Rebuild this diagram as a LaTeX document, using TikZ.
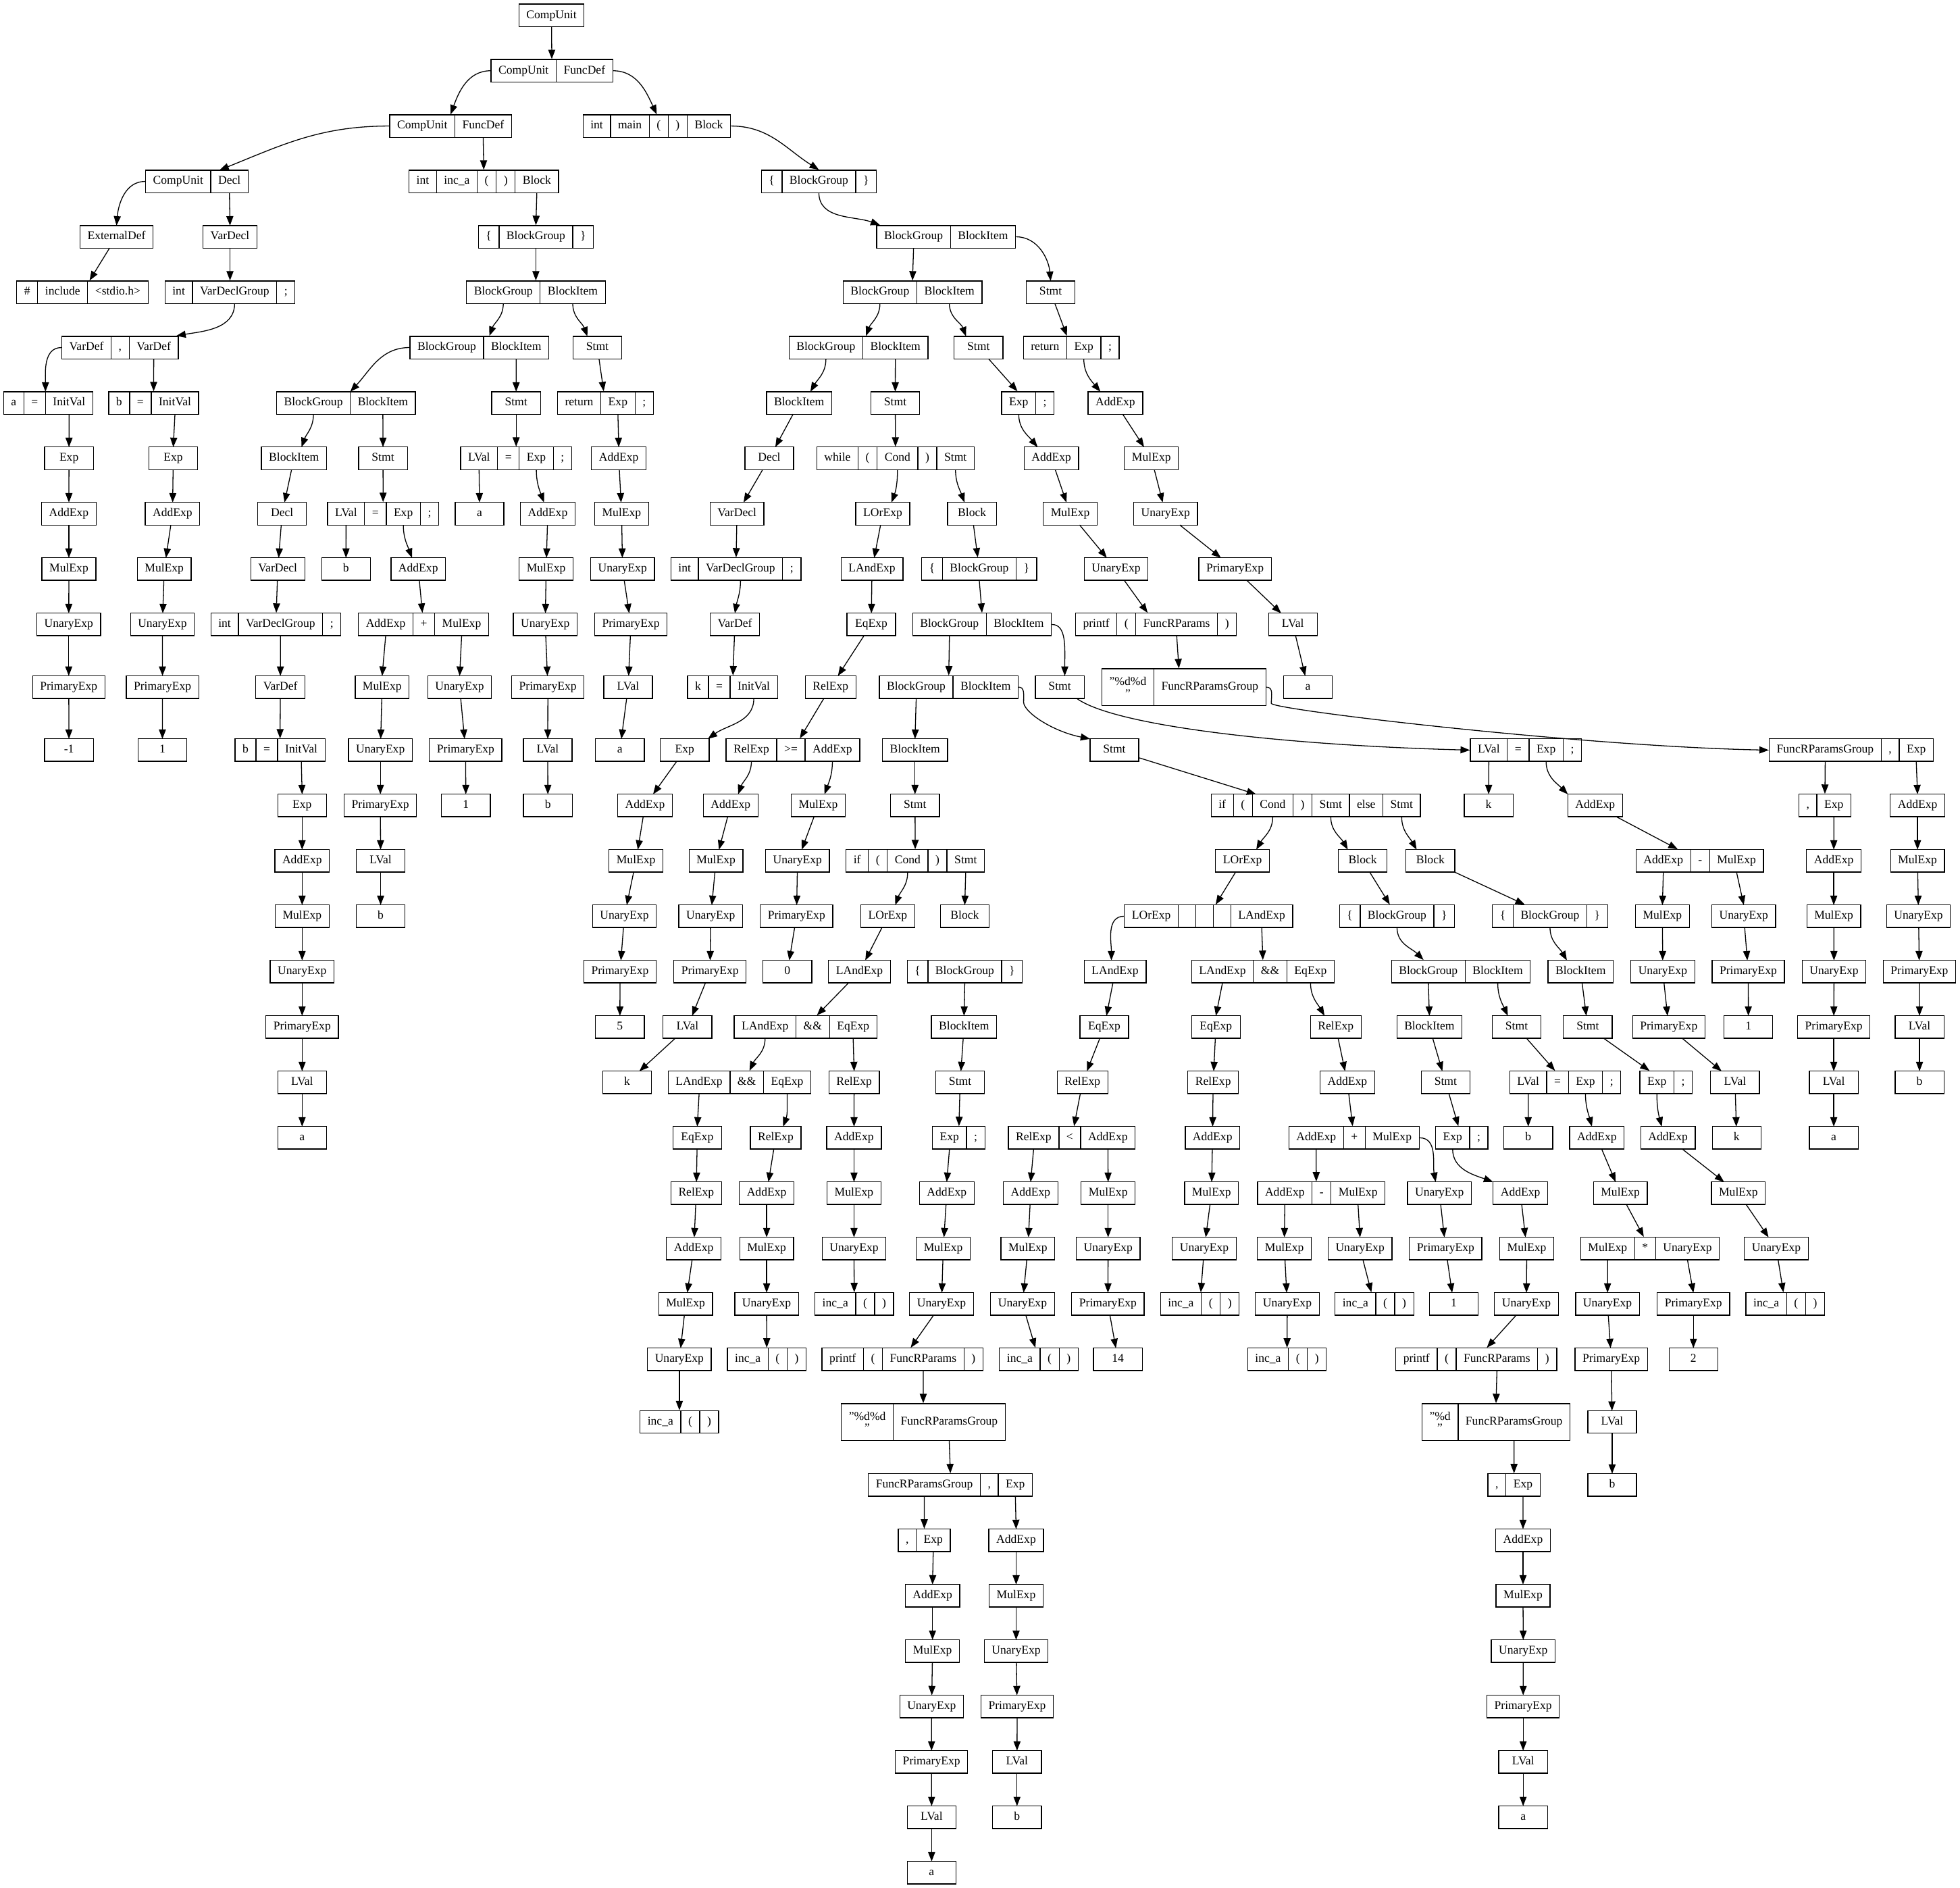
\documentclass[tikz,border=0pt]{standalone}
\usepackage{fontspec}
\setmainfont{Liberation Serif}
\usetikzlibrary{matrix,arrows.meta}
\newcommand{\treefont}{\fontsize{9.5pt}{11.4pt}\selectfont}
\newcommand{\ampch}{\char"26\relax}
\tikzset{
	field/.style={draw, font=\treefont, minimum height=18pt, inner xsep=6pt, inner ysep=0pt, outer sep=0pt, text height=6.7pt, text depth=2pt},
	rec/.style={matrix of nodes, nodes={field, anchor=center}, column sep=-\pgflinewidth, inner sep=0pt, outer sep=0pt},
	tall/.style={nodes={minimum height=29.4pt, text height=, text depth=}},
	link/.style={-{Triangle[length=7.5pt, width=5.6pt]}}
}
\begin{document}
\begin{tikzpicture}[x=1pt, y=1pt, line width=0.7pt, ampersand replacement=\&, box/.style={field, minimum width=39pt}]
\useasboundingbox (0,0) rectangle (1568,-1510);
\node[box] (cu0) at (441.2,-12.3) {CompUnit};
\matrix (rec1) [rec] at (441.5,-56.6) {CompUnit \& FuncDef\\};
\matrix (rec2a) [rec] at (360.5,-100.8) {CompUnit \& FuncDef\\};
\matrix (rec2b) [rec] at (525.4,-100.8) {int \& main \& ( \& ) \& Block\\};
\matrix (rec3a) [rec] at (157.5,-145.1) {CompUnit \& Decl\\};
\matrix (rec3b) [rec] at (387,-145.1) {int \& inc\_a \& ( \& ) \& Block\\};
\matrix (rec3c) [rec] at (655.1,-145.1) {\{ \& BlockGroup \& \}\\};
\node[box] (ext4a) at (93.2,-189.4) {ExternalDef};
\node[box] (vdecl4b) at (184,-189.4) {VarDecl};
\matrix (rec4c) [rec] at (428.7,-189.4) {\{ \& BlockGroup \& \}\\};
\matrix (rec4d) [rec] at (756.9,-189.4) {BlockGroup \& BlockItem\\};
\matrix (rec5a) [rec] at (65.9,-233.7) {\# \& include \& <stdio.h>\\};
\matrix (rec5b) [rec] at (184,-233.7) {int \& VarDeclGroup \& ;\\};
\matrix (rec5c) [rec] at (428.7,-233.7) {BlockGroup \& BlockItem\\};
\matrix (rec5d) [rec] at (730,-233.7) {BlockGroup \& BlockItem\\};
\node[box] (stmt5e) at (840.5,-233.7) {Stmt};
\matrix (rec6a) [rec] at (96.1,-278) {VarDef \& , \& VarDef\\};
\matrix (rec6b) [rec] at (383.5,-278) {BlockGroup \& BlockItem\\};
\node[box] (stmt6c) at (477.9,-278) {Stmt};
\matrix (rec6d) [rec] at (686.8,-278) {BlockGroup \& BlockItem\\};
\node[box] (stmt6e) at (782.8,-278) {Stmt};
\matrix (rec6f) [rec] at (857,-278) {return \& Exp \& ;\\};
\matrix (rec7a) [rec] at (38.5,-322.3) {a \& = \& InitVal\\};
\matrix (rec7b) [rec] at (122.9,-322.3) {b \& = \& InitVal\\};
\matrix (rec7c) [rec] at (276.8,-322.3) {BlockGroup \& BlockItem\\};
\node[box] (stmt7d) at (412.9,-322.3) {Stmt};
\matrix (rec7e) [rec] at (484.3,-322.3) {return \& Exp \& ;\\};
\node[box] (item7f) at (639.3,-322.3) {BlockItem};
\node[box] (stmt7g) at (716.2,-322.3) {Stmt};
\matrix (rec7h) [rec] at (822.3,-322.3) {Exp \& ;\\};
\node[box] (add7i) at (892.3,-322.3) {AddExp};
\node[box] (exp8a) at (55.2,-366.6) {Exp};
\node[box] (exp8b) at (138.6,-366.6) {Exp};
\node[box] (item8c) at (235.2,-366.6) {BlockItem};
\node[box] (stmt8d) at (306.4,-366.6) {Stmt};
\matrix (rec8e) [rec] at (412.9,-366.6) {LVal \& = \& Exp \& ;\\};
\node[box] (add8f) at (495,-366.6) {AddExp};
\node[box] (decl8g) at (615.4,-366.6) {Decl};
\matrix (rec8h) [rec] at (716.4,-366.6) {while \& ( \& Cond \& ) \& Stmt\\};
\node[box] (add8i) at (841.1,-366.6) {AddExp};
\node[box] (mul8j) at (921.1,-366.6) {MulExp};
\node[box] (add9a) at (55.1,-410.9) {AddExp};
\node[box] (add9b) at (138,-410.9) {AddExp};
\node[box] (decl9c) at (225.7,-410.9) {Decl};
\matrix (rec9d) [rec] at (306.5,-410.9) {LVal \& = \& Exp \& ;\\};
\node[box] (id9e) at (383.6,-410.9) {a};
\node[box] (add9f) at (438.2,-410.9) {AddExp};
\node[box] (mul9g) at (497.3,-410.9) {MulExp};
\node[box] (vdecl9h) at (589.6,-410.9) {VarDecl};
\node[box] (lor9i) at (706.2,-410.9) {LOrExp};
\node[box] (block9j) at (777.6,-410.9) {Block};
\node[box] (mul9k) at (856.2,-410.9) {MulExp};
\node[box] (un9l) at (932.5,-410.9) {UnaryExp};
\node[box] (mul10a) at (55.1,-455.2) {MulExp};
\node[box] (mul10b) at (131.4,-455.2) {MulExp};
\node[box] (vdecl10c) at (222.2,-455.2) {VarDecl};
\node[box] (id10d) at (276.8,-455.2) {b};
\node[box] (add10e) at (334.6,-455.2) {AddExp};
\node[box] (mul10f) at (436.9,-455.2) {MulExp};
\node[box] (un10g) at (498,-455.2) {UnaryExp};
\matrix (rec10h) [rec] at (588.7,-455.2) {int \& VarDeclGroup \& ;\\};
\node[box] (land10i) at (697.6,-455.2) {LAndExp};
\matrix (rec10j) [rec] at (783.4,-455.2) {\{ \& BlockGroup \& \}\\};
\node[box] (un10k) at (892.9,-455.2) {UnaryExp};
\node[box] (prim10l) at (988,-455.2) {PrimaryExp};
\node[box] (un11a) at (55,-499.5) {UnaryExp};
\node[box] (un11b) at (129.9,-499.5) {UnaryExp};
\matrix (rec11c) [rec] at (220.7,-499.5) {int \& VarDeclGroup \& ;\\};
\matrix (rec11d) [rec] at (338.8,-499.5) {AddExp \& + \& MulExp\\};
\node[box] (un11e) at (436.2,-499.5) {UnaryExp};
\node[box] (prim11f) at (504.7,-499.5) {PrimaryExp};
\node[box] (vdef11g) at (587.9,-499.5) {VarDef};
\node[box] (eq11h) at (697,-499.5) {EqExp};
\matrix (rec11i) [rec] at (785.6,-499.5) {BlockGroup \& BlockItem\\};
\matrix (rec11j) [rec] at (924.8,-499.5) {printf \& ( \& FuncRParams \& )\\};
\node[box] (lval11k) at (1034.3,-499.5) {LVal};
\node[box] (prim12a) at (55,-549.6) {PrimaryExp};
\node[box] (prim12b) at (130,-549.6) {PrimaryExp};
\node[box] (vdef12c) at (224.3,-549.6) {VarDef};
\node[box] (mul12d) at (305.7,-549.6) {MulExp};
\node[box] (un12e) at (367.7,-549.6) {UnaryExp};
\node[box] (prim12f) at (438.3,-549.6) {PrimaryExp};
\node[box] (lval12g) at (502.5,-549.6) {LVal};
\matrix (rec12h) [rec] at (586,-549.6) {k \& = \& InitVal\\};
\node[box] (rel12i) at (664.5,-549.6) {RelExp};
\matrix (rec12j) [rec] at (759,-549.6) {BlockGroup \& BlockItem\\};
\node[box] (stmt12k) at (847.8,-549.6) {Stmt};
\matrix (rec12l) [rec, tall] at (947.1,-549.6) {\shortstack{"\%d\%d\\"} \& FuncRParamsGroup\\};
\node[box] (id12m) at (1046.3,-549.6) {a};
\node[box] (num13a) at (55.2,-600) {-1};
\node[box] (num13b) at (129.9,-600) {1};
\matrix (rec13c) [rec] at (224,-600) {b \& = \& InitVal\\};
\node[box] (un13d) at (304.3,-600) {UnaryExp};
\node[box] (prim13e) at (372.5,-600) {PrimaryExp};
\node[box] (lval13f) at (438.2,-600) {LVal};
\node[box] (id13g) at (495.9,-600) {a};
\node[box] (exp13h) at (547.8,-600) {Exp};
\matrix (rec13i) [rec] at (634.3,-600) {RelExp \& >= \& AddExp\\};
\node[box] (item13j) at (732,-600) {BlockItem};
\node[box] (stmt13k) at (891.5,-600) {Stmt};
\matrix (rec13l) [rec] at (1220.7,-600) {LVal \& = \& Exp \& ;\\};
\matrix (rec13m) [rec] at (1481,-600) {FuncRParamsGroup \& , \& Exp\\};
\node[box] (exp14a) at (241.7,-644.3) {Exp};
\node[box] (prim14b) at (304.3,-644.3) {PrimaryExp};
\node[box] (num14c) at (372.7,-644.3) {1};
\node[box] (id14d) at (438.3,-644.3) {b};
\node[box] (add14e) at (516,-644.3) {AddExp};
\node[box] (add14f) at (584.5,-644.3) {AddExp};
\node[box] (mul14g) at (654.6,-644.3) {MulExp};
\node[box] (stmt14h) at (732,-644.3) {Stmt};
\matrix (rec14i) [rec] at (1052.6,-644.3) {if \& ( \& Cond \& ) \& Stmt \& else \& Stmt\\};
\node[box] (id14j) at (1190.9,-644.3) {k};
\node[box] (add14k) at (1276.1,-644.3) {AddExp};
\matrix (rec14l) [rec] at (1459.9,-644.3) {, \& Exp\\};
\node[box] (add14m) at (1534,-644.3) {AddExp};
\node[box] (add15a) at (241.7,-688.6) {AddExp};
\node[box] (lval15b) at (304.5,-688.6) {LVal};
\node[box] (mul15c) at (508.8,-688.6) {MulExp};
\node[box] (mul15d) at (572.8,-688.6) {MulExp};
\node[box] (un15e) at (638,-688.6) {UnaryExp};
\matrix (rec15f) [rec] at (732.2,-688.6) {if \& ( \& Cond \& ) \& Stmt\\};
\node[box] (lor15g) at (994,-688.6) {LOrExp};
\node[box] (block15h) at (1090.2,-688.6) {Block};
\node[box] (block15i) at (1144.3,-688.6) {Block};
\matrix (rec15k) [rec] at (1359.8,-688.6) {AddExp \& - \& MulExp\\};
\node[box] (add15l) at (1467,-688.6) {AddExp};
\node[box] (mul15m) at (1534,-688.6) {MulExp};
\node[box] (mul16a) at (241.7,-732.9) {MulExp};
\node[box] (id16b) at (304.5,-732.9) {b};
\node[box] (un16c) at (499.5,-732.9) {UnaryExp};
\node[box] (un16d) at (568.6,-732.9) {UnaryExp};
\node[box] (prim16e) at (637.2,-732.9) {PrimaryExp};
\node[box] (lor16f) at (710.2,-732.9) {LOrExp};
\node[box] (block16g) at (771.8,-732.9) {Block};
\matrix (rec16h) [rec, nodes in empty cells, nodes={minimum width=14pt}] at (966.8,-732.9) {LOrExp \& \& \& \& LAndExp\\};
\matrix (rec16i) [rec] at (1117.6,-732.9) {\{ \& BlockGroup \& \}\\};
\matrix (rec16j) [rec] at (1240,-732.9) {\{ \& BlockGroup \& \}\\};
\node[box] (mul16k) at (1329.9,-732.9) {MulExp};
\node[box] (un16l) at (1395,-732.9) {UnaryExp};
\node[box] (mul16m) at (1467,-732.9) {MulExp};
\node[box] (un16n) at (1534.8,-732.9) {UnaryExp};
\node[box] (un17a) at (241.7,-777.2) {UnaryExp};
\node[box] (prim17b) at (496,-777.2) {PrimaryExp};
\node[box] (prim17c) at (568,-777.2) {PrimaryExp};
\node[box] (num17d) at (629.9,-777.2) {0};
\node[box] (land17e) at (687.6,-777.2) {LAndExp};
\matrix (rec17f) [rec] at (771.8,-777.2) {\{ \& BlockGroup \& \}\\};
\node[box] (land17g) at (892.1,-777.2) {LAndExp};
\matrix (rec17h) [rec] at (1010.3,-777.2) {LAndExp \& \ampch\ampch \& EqExp\\};
\matrix (rec17i) [rec] at (1168.7,-777.2) {BlockGroup \& BlockItem\\};
\node[box] (item17j) at (1264.5,-777.2) {BlockItem};
\node[box] (un17k) at (1330.2,-777.2) {UnaryExp};
\node[box] (prim17l) at (1398.6,-777.2) {PrimaryExp};
\node[box] (un17m) at (1467.2,-777.2) {UnaryExp};
\node[box] (prim17n) at (1535.5,-777.2) {PrimaryExp};
\node[box] (prim18a) at (241.7,-821.5) {PrimaryExp};
\node[box] (num18b) at (495.9,-821.5) {5};
\node[box] (lval18c) at (550,-821.5) {LVal};
\matrix (rec18d) [rec] at (644.4,-821.5) {LAndExp \& \ampch\ampch \& EqExp\\};
\node[box] (item18e) at (771.2,-821.5) {BlockItem};
\node[box] (eq18f) at (883.4,-821.5) {EqExp};
\node[box] (eq18g) at (972.7,-821.5) {EqExp};
\node[box] (rel18h) at (1068.6,-821.5) {RelExp};
\node[box] (item18i) at (1143.5,-821.5) {BlockItem};
\node[box] (stmt18j) at (1213.3,-821.5) {Stmt};
\node[box] (stmt18k) at (1270.2,-821.5) {Stmt};
\node[box] (prim18l) at (1335,-821.5) {PrimaryExp};
\node[box] (num18m) at (1398.7,-821.5) {1};
\node[box] (prim18n) at (1467,-821.5) {PrimaryExp};
\node[box] (lval18o) at (1535.6,-821.5) {LVal};
\node[box] (lval19a) at (241.7,-865.8) {LVal};
\node[box] (id19b) at (501.7,-865.8) {k};
\matrix (rec19c) [rec] at (591.6,-865.8) {LAndExp \& \ampch\ampch \& EqExp\\};
\node[box] (rel19d) at (683.3,-865.8) {RelExp};
\node[box] (stmt19e) at (768.1,-865.8) {Stmt};
\node[box] (rel19f) at (866,-865.8) {RelExp};
\node[box] (rel19g) at (970.5,-865.8) {RelExp};
\node[box] (add19h) at (1077.9,-865.8) {AddExp};
\node[box] (stmt19i) at (1156.5,-865.8) {Stmt};
\matrix (rec19j) [rec] at (1252.2,-865.8) {LVal \& = \& Exp \& ;\\};
\matrix (rec19k) [rec] at (1332.8,-865.8) {Exp \& ;\\};
\node[box] (lval19l) at (1388,-865.8) {LVal};
\node[box] (lval19m) at (1467,-865.8) {LVal};
\node[box] (id19n) at (1535.6,-865.8) {b};
\node[box] (id20a) at (241.7,-910.1) {a};
\node[box] (eq20b) at (557.8,-910.1) {EqExp};
\node[box] (rel20c) at (620.5,-910.1) {RelExp};
\node[box] (add20d) at (683.2,-910.1) {AddExp};
\matrix (rec20e) [rec] at (766.9,-910.1) {Exp \& ;\\};
\matrix (rec20f) [rec] at (857.4,-910.1) {RelExp \& < \& AddExp\\};
\node[box] (add20g) at (970,-910.1) {AddExp};
\matrix (rec20h) [rec] at (1083.2,-910.1) {AddExp \& + \& MulExp\\};
\matrix (rec20i) [rec] at (1169.4,-910.1) {Exp \& ;\\};
\node[box] (id20j) at (1222.6,-910.1) {b};
\node[box] (add20k) at (1277.5,-910.1) {AddExp};
\node[box] (add20l) at (1334.4,-910.1) {AddExp};
\node[box] (id20m) at (1389.3,-910.1) {k};
\node[box] (id20n) at (1467,-910.1) {a};
\node[box] (rel21a) at (557,-954.4) {RelExp};
\node[box] (add21b) at (613.3,-954.4) {AddExp};
\node[box] (mul21c) at (683.2,-954.4) {MulExp};
\node[box] (add21d) at (757.4,-954.4) {AddExp};
\node[box] (add21e) at (824.5,-954.4) {AddExp};
\node[box] (mul21f) at (886.5,-954.4) {MulExp};
\node[box] (mul21g) at (969.2,-954.4) {MulExp};
\matrix (rec21h) [rec] at (1057,-954.4) {AddExp \& - \& MulExp\\};
\node[box] (un21i) at (1151.5,-954.4) {UnaryExp};
\node[box] (add21j) at (1216.3,-954.4) {AddExp};
\node[box] (mul21k) at (1296.3,-954.4) {MulExp};
\node[box] (mul21l) at (1390.7,-954.4) {MulExp};
\node[box] (add22a) at (555,-998.7) {AddExp};
\node[box] (mul22b) at (613.3,-998.7) {MulExp};
\node[box] (un22c) at (683.2,-998.7) {UnaryExp};
\node[box] (mul22d) at (754.6,-998.7) {MulExp};
\node[box] (mul22e) at (822.3,-998.7) {MulExp};
\node[box] (un22f) at (886.5,-998.7) {UnaryExp};
\node[box] (un22g) at (963.4,-998.7) {UnaryExp};
\node[box] (mul22h) at (1027.5,-998.7) {MulExp};
\node[box] (un22i) at (1088,-998.7) {UnaryExp};
\node[box] (prim22j) at (1156.5,-998.7) {PrimaryExp};
\node[box] (mul22k) at (1221.4,-998.7) {MulExp};
\matrix (rec22l) [rec] at (1320,-998.7) {MulExp \& * \& UnaryExp\\};
\node[box] (un22m) at (1421,-998.7) {UnaryExp};
\node[box] (mul23a) at (548.5,-1043) {MulExp};
\node[box] (un23b) at (613.3,-1043) {UnaryExp};
\matrix (rec23c) [rec] at (683.4,-1043) {inc\_a \& ( \& )\\};
\node[box] (un23d) at (753.2,-1043) {UnaryExp};
\node[box] (un23e) at (818,-1043) {UnaryExp};
\node[box] (prim23f) at (886.3,-1043) {PrimaryExp};
\matrix (rec23g) [rec] at (959.9,-1043) {inc\_a \& ( \& )\\};
\node[box] (un23h) at (1029.8,-1043) {UnaryExp};
\matrix (rec23i) [rec] at (1099.5,-1043) {inc\_a \& ( \& )\\};
\node[box] (num23j) at (1163,-1043) {1};
\node[box] (un23k) at (1221.1,-1043) {UnaryExp};
\node[box] (un23l) at (1286,-1043) {UnaryExp};
\node[box] (prim23m) at (1354.7,-1043) {PrimaryExp};
\matrix (rec23n) [rec] at (1428.2,-1043) {inc\_a \& ( \& )\\};
\node[box] (un24a) at (543.5,-1087.3) {UnaryExp};
\matrix (rec24b) [rec] at (613.4,-1087.3) {inc\_a \& ( \& )\\};
\matrix (rec24c) [rec] at (722,-1087.3) {printf \& ( \& FuncRParams \& )\\};
\matrix (rec24d) [rec] at (831,-1087.3) {inc\_a \& ( \& )\\};
\node[box] (num24e) at (894.3,-1087.3) {14};
\matrix (rec24f) [rec] at (1029.6,-1087.3) {inc\_a \& ( \& )\\};
\matrix (rec24g) [rec] at (1181,-1087.3) {printf \& ( \& FuncRParams \& )\\};
\node[box] (prim24h) at (1289,-1087.3) {PrimaryExp};
\node[box] (num24i) at (1354.7,-1087.3) {2};
\matrix (rec25a) [rec] at (543.5,-1137.4) {inc\_a \& ( \& )\\};
\matrix (rec25b) [rec, tall] at (738.6,-1137.4) {\shortstack{"\%d\%d\\"} \& FuncRParamsGroup\\};
\matrix (rec25c) [rec, tall] at (1196.8,-1137.4) {\shortstack{"\%d\\"} \& FuncRParamsGroup\\};
\node[box] (lval25d) at (1289.7,-1137.4) {LVal};
\matrix (rec26a) [rec] at (760.3,-1187.8) {FuncRParamsGroup \& , \& Exp\\};
\matrix (rec26b) [rec] at (1211.2,-1187.8) {, \& Exp\\};
\node[box] (id26c) at (1289.7,-1187.8) {b};
\matrix (rec27a) [rec] at (739.4,-1232.1) {, \& Exp\\};
\node[box] (add27b) at (812.9,-1232.1) {AddExp};
\node[box] (add27c) at (1218.4,-1232.1) {AddExp};
\node[box] (add28a) at (746,-1276.4) {AddExp};
\node[box] (mul28b) at (812.9,-1276.4) {MulExp};
\node[box] (mul28c) at (1218.4,-1276.4) {MulExp};
\node[box] (mul29a) at (746,-1320.7) {MulExp};
\node[box] (un29b) at (812.9,-1320.7) {UnaryExp};
\node[box] (un29c) at (1218.6,-1320.7) {UnaryExp};
\node[box] (un30a) at (745.3,-1365) {UnaryExp};
\node[box] (prim30b) at (813.7,-1365) {PrimaryExp};
\node[box] (prim30c) at (1218.5,-1365) {PrimaryExp};
\node[box] (prim31a) at (745.2,-1409.3) {PrimaryExp};
\node[box] (lval31b) at (813.6,-1409.3) {LVal};
\node[box] (lval31c) at (1218.5,-1409.3) {LVal};
\node[box] (lval32a) at (745.3,-1453.6) {LVal};
\node[box] (id32b) at (813.6,-1453.6) {b};
\node[box] (id32c) at (1218.5,-1453.6) {a};
\node[box] (id33a) at (745.3,-1497.9) {a};
\draw[link] (cu0) -- (rec1);
\draw[link] (rec1.west) to[out=180,in=70] (rec2a.north);
\draw[link] (rec1.east) to[out=0,in=115] (rec2b.north);
\draw[link] (rec2a.west) to[out=180,in=22] ([xshift=-8pt]rec3a-1-2.north);
\draw[link] (rec2a-1-2.south) -- (rec3b.north);
\draw[link] (rec2b.east) to[out=0,in=148] (rec3c.north);
\draw[link] (rec3a.west) to[out=180,in=85] (ext4a.north);
\draw[link] (rec3a-1-2.south) -- (vdecl4b.north);
\draw[link] (rec3b-1-5.south) -- (rec4c.north);
\draw[link] (rec3c-1-2.south) to[out=-90,in=160] ([xshift=3pt]rec4d.north west);
\draw[link] (ext4a) -- (rec5a);
\draw[link] (vdecl4b) -- (rec5b);
\draw[link] (rec4c-1-2.south) -- (rec5c.north);
\draw[link] (rec4d-1-1.south) -- (rec5d.north);
\draw[link] (rec4d.east) to[out=0,in=95] (stmt5e.north);
\draw[link] (rec5b-1-2.south) to[out=-90,in=10] ([xshift=-2pt]rec6a.north east);
\draw[link] (rec5c-1-1.south) to[out=-90,in=70] ([xshift=8pt]rec6b.north);
\draw[link] (rec5c-1-2.south) to[out=-90,in=110] ([xshift=-8pt]stmt6c.north);
\draw[link] (rec5d-1-1.south) to[out=-90,in=70] ([xshift=6pt]rec6d.north);
\draw[link] (rec5d-1-2.south) to[out=-90,in=110] ([xshift=-10pt]stmt6e.north);
\draw[link] (stmt5e) -- (rec6f);
\draw[link] (rec6a.west) to[out=180,in=90] (rec7a-1-3.north west);
\draw[link] (rec6a-1-3.south) -- (rec7b.north);
\draw[link] (rec6b.west) to[out=180,in=47] (rec7c-1-2.north west);
\draw[link] (rec6b-1-2.south) -- (stmt7d.north);
\draw[link] (stmt6c) -- (rec7e);
\draw[link] (rec6d-1-1.south) to[out=-90,in=60] ([xshift=9pt]item7f.north);
\draw[link] (rec6d-1-2.south) -- (stmt7g.north);
\draw[link] (stmt6e) -- (rec7h);
\draw[link] (rec6f-1-2.south) to[out=-90,in=130] ([xshift=-12pt]add7i.north);
\draw[link] (rec7a-1-3.south) -- (exp8a.north);
\draw[link] (rec7b-1-3.south) -- (exp8b.north);
\draw[link] (rec7c-1-1.south) to[out=-90,in=70] ([xshift=6pt]item8c.north);
\draw[link] (rec7c-1-2.south) -- (stmt8d.north);
\draw[link] (stmt7d) -- (rec8e);
\draw[link] (rec7e-1-2.south) -- (add8f.north);
\draw[link] (item7f) -- (decl8g);
\draw[link] (stmt7g) -- (rec8h);
\draw[link] (rec7h-1-1.south) to[out=-90,in=130] ([xshift=-11pt]add8i.north);
\draw[link] (add7i) -- (mul8j);
\draw[link] (exp8a) -- (add9a);
\draw[link] (exp8b) -- (add9b);
\draw[link] (item8c) -- (decl9c);
\draw[link] (stmt8d) -- (rec9d);
\draw[link] (rec8e-1-1.south) -- (id9e.north);
\draw[link] (rec8e-1-3.south) to[out=-90,in=110] ([xshift=-3pt]add9f.north);
\draw[link] (add8f) -- (mul9g);
\draw[link] (decl8g) -- (vdecl9h);
\draw[link] (rec8h-1-3.south) to[out=-90,in=70] ([xshift=7pt]lor9i.north);
\draw[link] (rec8h-1-5.south) to[out=-90,in=110] ([xshift=-6pt]block9j.north);
\draw[link] (add8i) -- (mul9k);
\draw[link] (mul8j) -- (un9l);
\draw[link] (add9a) -- (mul10a);
\draw[link] (add9b) -- (mul10b);
\draw[link] (decl9c) -- (vdecl10c);
\draw[link] (rec9d-1-1.south) -- (id10d.north);
\draw[link] (rec9d-1-3.south) to[out=-90,in=110] ([xshift=-5pt]add10e.north);
\draw[link] (add9f) -- (mul10f);
\draw[link] (mul9g) -- (un10g);
\draw[link] (vdecl9h) -- (rec10h);
\draw[link] (lor9i) -- (land10i);
\draw[link] (block9j) -- (rec10j);
\draw[link] (mul9k) -- (un10k);
\draw[link] (un9l) -- (prim10l);
\draw[link] (mul10a) -- (un11a);
\draw[link] (mul10b) -- (un11b);
\draw[link] (vdecl10c) -- (rec11c);
\draw[link] (add10e) -- (rec11d);
\draw[link] (mul10f) -- (un11e);
\draw[link] (un10g) -- (prim11f);
\draw[link] (rec10h-1-2.south) to[out=-90,in=80] (vdef11g.north);
\draw[link] (land10i) -- (eq11h);
\draw[link] (rec10j-1-2.south) -- (rec11i.north);
\draw[link] (un10k) -- (rec11j);
\draw[link] (prim10l) -- (lval11k);
\draw[link] (un11a) -- (prim12a);
\draw[link] (un11b) -- (prim12b);
\draw[link] (rec11c-1-2.south) -- (vdef12c.north);
\draw[link] (rec11d-1-1.south) -- (mul12d.north);
\draw[link] (rec11d-1-3.south) -- (un12e.north);
\draw[link] (un11e) -- (prim12f);
\draw[link] (prim11f) -- (lval12g);
\draw[link] (vdef11g) -- (rec12h);
\draw[link] (eq11h) -- (rel12i);
\draw[link] (rec11i-1-1.south) -- (rec12j.north);
\draw[link] (rec11i.east) .. controls +(12,0) and +(0,22) .. ([xshift=4pt]stmt12k.north);
\draw[link] (rec11j-1-3.south) -- ([xshift=-4pt]rec12l.north);
\draw[link] (lval11k) -- (id12m);
\draw[link] (prim12a) -- (num13a);
\draw[link] (prim12b) -- (num13b);
\draw[link] (vdef12c) -- (rec13c);
\draw[link] (mul12d) -- (un13d);
\draw[link] (un12e) -- (prim13e);
\draw[link] (prim12f) -- (lval13f);
\draw[link] (lval12g) -- (id13g);
\draw[link] (rec12h-1-3.south) to[out=-90,in=36] ([xshift=-1pt]exp13h.north east);
\draw[link] (rel12i) -- (rec13i);
\draw[link] (rec12j-1-1.south) -- (item13j.north);
\draw[link] (rec12j.east) .. controls +(5,0) and +(0,6) .. ++(4,-12) .. controls +(0,-8) and +(-30,6) .. (stmt13k.north west);
\draw[link] ([xshift=-6pt]stmt12k.south east) .. controls +(30,-22) and +(-150,4) .. (rec13l.west);
\draw[link] (rec12l.east) .. controls +(6,0) and +(0,6) .. ++(4,-13) .. controls +(0,-5) and +(-150,3) .. (rec13m.west);
\draw[link] (rec13c-1-3.south) -- (exp14a.north);
\draw[link] (un13d) -- (prim14b);
\draw[link] (prim13e) -- (num14c);
\draw[link] (lval13f) -- (id14d);
\draw[link] (exp13h) -- (add14e);
\draw[link] (rec13i-1-1.south) to[out=-90,in=70] ([xshift=6pt]add14f.north);
\draw[link] (rec13i-1-3.south) to[out=-90,in=70] ([xshift=5pt]mul14g.north);
\draw[link] (item13j) -- (stmt14h);
\draw[link] (stmt13k) -- ([xshift=3pt]rec14i-1-3.north west);
\draw[link] (rec13l-1-1.south) -- (id14j.north);
\draw[link] (rec13l-1-3.south) to[out=-90,in=135] (add14k.north west);
\draw[link] (rec13m-1-1.south) -- (rec14l.north);
\draw[link] (rec13m-1-3.south) -- (add14m.north);
\draw[link] (exp14a) -- (add15a);
\draw[link] (prim14b) -- (lval15b);
\draw[link] (add14e) -- (mul15c);
\draw[link] (add14f) -- (mul15d);
\draw[link] (mul14g) -- (un15e);
\draw[link] (stmt14h) -- (rec15f);
\draw[link] (rec14i-1-3.south) to[out=-90,in=60] ([xshift=11pt]lor15g.north);
\draw[link] (rec14i-1-5.south) to[out=-90,in=120] ([xshift=-12pt]block15h.north);
\draw[link] (rec14i-1-7.south) to[out=-90,in=120] ([xshift=-11pt]block15i.north);
\draw[link] (add14k) -- (rec15k);
\draw[link] (rec14l-1-2.south) -- (add15l.north);
\draw[link] (add14m) -- (mul15m);
\draw[link] (add15a) -- (mul16a);
\draw[link] (lval15b) -- (id16b);
\draw[link] (mul15c) -- (un16c);
\draw[link] (mul15d) -- (un16d);
\draw[link] (un15e) -- (prim16e);
\draw[link] (rec15f-1-3.south) to[out=-90,in=70] ([xshift=6pt]lor16f.north);
\draw[link] (rec15f-1-5.south) -- (block16g.north);
\draw[link] (lor15g) -- (rec16h);
\draw[link] (block15h) -- (rec16i);
\draw[link] (block15i) -- (rec16j);
\draw[link] (rec15k-1-1.south) -- (mul16k.north);
\draw[link] (rec15k-1-3.south) -- (un16l.north);
\draw[link] (add15l) -- (mul16m);
\draw[link] (mul15m) -- (un16n);
\draw[link] (mul16a) -- (un17a);
\draw[link] (un16c) -- (prim17b);
\draw[link] (un16d) -- (prim17c);
\draw[link] (prim16e) -- (num17d);
\draw[link] (lor16f) -- (land17e);
\draw[link] (rec16h.west) to[out=180,in=90] ([xshift=-3pt]land17g.north);
\draw[link] (rec16h-1-5.south) -- (rec17h.north);
\draw[link] (rec16i-1-2.south) to[out=-90,in=135] ([xshift=26pt]rec17i.north west);
\draw[link] (rec16j-1-2.south) to[out=-90,in=120] ([xshift=-11pt]item17j.north);
\draw[link] (mul16k) -- (un17k);
\draw[link] (un16l) -- (prim17l);
\draw[link] (mul16m) -- (un17m);
\draw[link] (un16n) -- (prim17n);
\draw[link] (un17a) -- (prim18a);
\draw[link] (prim17b) -- (num18b);
\draw[link] (prim17c) -- (lval18c);
\draw[link] (land17e) -- (rec18d);
\draw[link] (rec17f-1-2.south) -- (item18e.north);
\draw[link] (land17g) -- (eq18f);
\draw[link] (rec17h-1-1.south) -- (eq18g.north);
\draw[link] (rec17h-1-3.south) to[out=-90,in=120] ([xshift=-9pt]rel18h.north);
\draw[link] (rec17i-1-1.south) -- (item18i.north);
\draw[link] (rec17i-1-2.south) to[out=-90,in=115] ([xshift=-7pt]stmt18j.north);
\draw[link] (item17j) -- (stmt18k);
\draw[link] (un17k) -- (prim18l);
\draw[link] (prim17l) -- (num18m);
\draw[link] (un17m) -- (prim18n);
\draw[link] (prim17n) -- (lval18o);
\draw[link] (prim18a) -- (lval19a);
\draw[link] (lval18c) -- (id19b);
\draw[link] (rec18d-1-1.south) to[out=-90,in=65] ([xshift=8pt]rec19c.north);
\draw[link] (rec18d-1-3.south) -- (rel19d.north);
\draw[link] (item18e) -- (stmt19e);
\draw[link] (eq18f) -- (rel19f);
\draw[link] (eq18g) -- (rel19g);
\draw[link] (rel18h) -- (add19h);
\draw[link] (item18i) -- (stmt19i);
\draw[link] (stmt18j) -- (rec19j);
\draw[link] (stmt18k) -- (rec19k);
\draw[link] (prim18l) -- (lval19l);
\draw[link] (prim18n) -- (lval19m);
\draw[link] (lval18o) -- (id19n);
\draw[link] (lval19a) -- (id20a);
\draw[link] (rec19c-1-1.south) -- (eq20b.north);
\draw[link] (rec19c-1-3.south) to[out=-90,in=70] ([xshift=6pt]rel20c.north);
\draw[link] (rel19d) -- (add20d);
\draw[link] (stmt19e) -- (rec20e);
\draw[link] (rel19f) -- (rec20f);
\draw[link] (rel19g) -- (add20g);
\draw[link] (add19h) -- (rec20h);
\draw[link] (stmt19i) -- (rec20i);
\draw[link] (rec19j-1-1.south) -- (id20j.north);
\draw[link] (rec19j-1-3.south) to[out=-90,in=105] ([xshift=-4pt]add20k.north);
\draw[link] (rec19k-1-1.south) to[out=-90,in=105] ([xshift=-5pt]add20l.north);
\draw[link] (lval19l) -- (id20m);
\draw[link] (lval19m) -- (id20n);
\draw[link] (eq20b) -- (rel21a);
\draw[link] (rel20c) -- (add21b);
\draw[link] (add20d) -- (mul21c);
\draw[link] (rec20e-1-1.south) -- (add21d.north);
\draw[link] (rec20f-1-1.south) -- (add21e.north);
\draw[link] (rec20f-1-3.south) -- (mul21f.north);
\draw[link] (add20g) -- (mul21g);
\draw[link] (rec20h-1-1.south) -- ([xshift=-4pt]rec21h.north);
\draw[link] (rec20h.east) to[out=0,in=100] ([xshift=-3pt]un21i.north);
\draw[link] (rec20i-1-1.south) to[out=-90,in=160] (add21j.north west);
\draw[link] (add20k) -- (mul21k);
\draw[link] (add20l) -- (mul21l);
\draw[link] (rel21a) -- (add22a);
\draw[link] (add21b) -- (mul22b);
\draw[link] (mul21c) -- (un22c);
\draw[link] (add21d) -- (mul22d);
\draw[link] (add21e) -- (mul22e);
\draw[link] (mul21f) -- (un22f);
\draw[link] (mul21g) -- (un22g);
\draw[link] (rec21h-1-1.south) -- (mul22h.north);
\draw[link] (rec21h-1-3.south) -- (un22i.north);
\draw[link] (un21i) -- (prim22j);
\draw[link] (add21j) -- (mul22k);
\draw[link] (mul21k) -- (rec22l);
\draw[link] (mul21l) -- (un22m);
\draw[link] (add22a) -- (mul23a);
\draw[link] (mul22b) -- (un23b);
\draw[link] (un22c) -- (rec23c);
\draw[link] (mul22d) -- (un23d);
\draw[link] (mul22e) -- (un23e);
\draw[link] (un22f) -- (prim23f);
\draw[link] (un22g) -- (rec23g);
\draw[link] (mul22h) -- (un23h);
\draw[link] (un22i) -- (rec23i);
\draw[link] (prim22j) -- (num23j);
\draw[link] (mul22k) -- (un23k);
\draw[link] (rec22l-1-1.south) -- (un23l.north);
\draw[link] (rec22l-1-3.south) -- (prim23m.north);
\draw[link] (un22m) -- (rec23n);
\draw[link] (mul23a) -- (un24a);
\draw[link] (un23b) -- (rec24b);
\draw[link] (un23d) -- (rec24c);
\draw[link] (un23e) -- (rec24d);
\draw[link] (prim23f) -- (num24e);
\draw[link] (un23h) -- (rec24f);
\draw[link] (un23k) -- (rec24g);
\draw[link] (un23l) -- (prim24h);
\draw[link] (prim23m) -- (num24i);
\draw[link] (un24a) -- (rec25a);
\draw[link] (rec24c-1-3.south) -- (rec25b.north);
\draw[link] (rec24g-1-3.south) -- (rec25c.north);
\draw[link] (prim24h) -- (lval25d);
\draw[link] (rec25b-1-2.south) -- (rec26a.north);
\draw[link] (rec25c-1-2.south) -- (rec26b.north);
\draw[link] (lval25d) -- (id26c);
\draw[link] (rec26a-1-1.south) -- (rec27a.north);
\draw[link] (rec26a-1-3.south) -- (add27b.north);
\draw[link] (rec26b-1-2.south) -- (add27c.north);
\draw[link] (rec27a-1-2.south) -- (add28a.north);
\draw[link] (add27b) -- (mul28b);
\draw[link] (add27c) -- (mul28c);
\draw[link] (add28a) -- (mul29a);
\draw[link] (mul28b) -- (un29b);
\draw[link] (mul28c) -- (un29c);
\draw[link] (mul29a) -- (un30a);
\draw[link] (un29b) -- (prim30b);
\draw[link] (un29c) -- (prim30c);
\draw[link] (un30a) -- (prim31a);
\draw[link] (prim30b) -- (lval31b);
\draw[link] (prim30c) -- (lval31c);
\draw[link] (prim31a) -- (lval32a);
\draw[link] (lval31b) -- (id32b);
\draw[link] (lval31c) -- (id32c);
\draw[link] (lval32a) -- (id33a);
\end{tikzpicture}
\end{document}
